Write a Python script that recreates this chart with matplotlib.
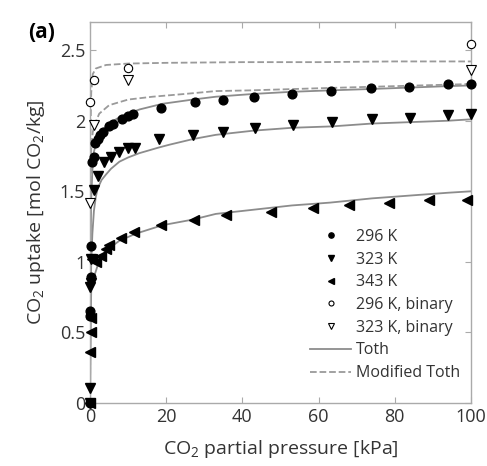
import matplotlib
matplotlib.use("Agg")
import matplotlib.pyplot as plt

plt.rcParams['font.family'] = ['Open Sans', 'DejaVu Sans']
plt.rcParams['mathtext.default'] = 'regular'

# measured uptake, pure CO2
p_296 = [0, 0.05, 0.1, 0.2, 0.3, 0.6, 1.0, 1.3, 2.0, 2.7, 3.3, 5.0, 5.9, 8.4, 9.9, 11.2,
         18.6, 27.5, 34.8, 43, 53, 63.3, 73.8, 83.8, 94, 100]
q_296 = [0, 0.62, 0.65, 0.89, 1.11, 1.71, 1.74, 1.84, 1.87, 1.90, 1.92, 1.96, 1.98, 2.01, 2.03, 2.05,
         2.09, 2.13, 2.15, 2.17, 2.19, 2.21, 2.23, 2.24, 2.26, 2.26]

p_323 = [0, 0.05, 0.1, 0.2, 0.3, 1.0, 2.1, 3.7, 5.5, 7.7, 9.9, 11.9, 18.1, 27, 34.8,
         43.2, 53.2, 63.6, 74, 84, 94, 100]
q_323 = [0, 0.11, 0.82, 0.85, 1.02, 1.51, 1.61, 1.71, 1.74, 1.78, 1.81, 1.81, 1.87, 1.90, 1.92,
         1.95, 1.97, 1.99, 2.01, 2.02, 2.04, 2.05]

p_343 = [0, 0.1, 0.2, 0.3, 0.5, 1.6, 2.9, 4.2, 5.0, 8.1, 11.6, 18.6, 27.3, 35.6,
         47.5, 58.5, 68, 78.5, 89, 99]
q_343 = [0, 0.36, 0.50, 0.60, 1.02, 1.00, 1.04, 1.09, 1.12, 1.17, 1.21, 1.26, 1.30, 1.33,
         1.35, 1.38, 1.40, 1.42, 1.44, 1.44]

# binary mixture
p_296b = [0, 1, 10, 100]
q_296b = [2.13, 2.29, 2.37, 2.54]
p_323b = [0, 0.9, 10, 100]
q_323b = [1.42, 1.97, 2.29, 2.36]

# Toth fits
tp_296 = [0, 0.05, 0.15, 0.3, 0.6, 1.0, 2.0, 3.0, 5.0, 8.0, 13, 19, 27, 33, 43, 53, 63, 74, 84, 94, 100]
tq_296 = [0, 0.7, 1.15, 1.45, 1.65, 1.78, 1.88, 1.93, 1.98, 2.03, 2.08, 2.12, 2.15, 2.17, 2.19,
          2.205, 2.215, 2.225, 2.235, 2.245, 2.25]
tp_323 = [0, 0.05, 0.15, 0.3, 0.6, 1.0, 1.5, 2.0, 3, 4.2, 5.5, 7.7, 10, 12.9, 18, 20.8, 27, 33,
          43, 53, 63.6, 74, 84, 94, 100]
tq_323 = [0, 0.4, 0.75, 1.0, 1.2, 1.36, 1.46, 1.52, 1.58, 1.62, 1.66, 1.71, 1.74, 1.77, 1.81, 1.83,
          1.87, 1.90, 1.93, 1.95, 1.96, 1.98, 1.99, 2.0, 2.01]
tp_343 = [0, 0.05, 0.15, 0.3, 0.6, 1.1, 2.4, 4.2, 7.7, 12, 19, 27, 33, 43, 53, 63, 74, 84, 94, 100]
tq_343 = [0, 0.3, 0.6, 0.8, 0.86, 0.9, 1.01, 1.08, 1.15, 1.2, 1.26, 1.30, 1.34, 1.37, 1.40, 1.42,
          1.45, 1.47, 1.49, 1.50]

# modified Toth fits
mp_296 = [0, 0.02, 0.1, 0.3, 0.7, 1.5, 4.2, 10, 20, 40, 60, 80, 100]
mq_296 = [0, 1.0, 1.9, 2.2, 2.33, 2.37, 2.395, 2.405, 2.41, 2.415, 2.415, 2.42, 2.42]
mp_323 = [0, 0.02, 0.1, 0.3, 0.7, 1.6, 2.4, 5, 10, 16.4, 25, 33, 42, 60, 80, 100]
mq_323 = [0, 0.8, 1.5, 1.8, 1.92, 2.0, 2.05, 2.11, 2.15, 2.17, 2.19, 2.21, 2.215, 2.23, 2.245, 2.26]

yticks = [0, 0.5, 1, 1.5, 2, 2.5]
ytick_labels = ['0', '0.5', '1', '1.5', '2', '2.5']
xticks = [0, 20, 40, 60, 80, 100]

txt = '#333333'
fig = plt.figure(figsize=(4.87, 4.66), dpi=100)
ax = fig.add_axes([0.185, 0.135, 0.782, 0.818])

ax.plot(p_296, q_296, 'o', color='black', ms=6.3, label='296 K', clip_on=False, zorder=3)
ax.plot(p_323, q_323, 'v', color='black', ms=6.8, label='323 K', clip_on=False, zorder=3)
ax.plot(p_343, q_343, '<', color='black', ms=6.8, label='343 K', clip_on=False, zorder=3)
ax.plot(p_296b, q_296b, 'o', mfc='white', mec='black', mew=0.8, ms=6, label='296 K, binary',
        clip_on=False, zorder=3)
ax.plot(p_323b, q_323b, 'v', mfc='white', mec='black', mew=0.8, ms=7, label='323 K, binary',
        clip_on=False, zorder=3)

ax.plot(tp_296, tq_296, '-', color='#8c8c8c', lw=1.3, label='Toth')
ax.plot(tp_323, tq_323, '-', color='#8c8c8c', lw=1.3)
ax.plot(tp_343, tq_343, '-', color='#8c8c8c', lw=1.3)
ax.plot(mp_296, mq_296, '--', color='#9a9a9a', lw=1.3, label='Modified Toth')
ax.plot(mp_323, mq_323, '--', color='#9a9a9a', lw=1.3)

ax.set_xlim(0, 100)
ax.set_ylim(0, 2.7)
ax.set_xticks(xticks)
ax.set_yticks(yticks)
ax.set_yticklabels(ytick_labels)
ax.tick_params(direction='in', top=True, right=True, labelsize=13, colors='#aaaaaa',
               labelcolor=txt, length=4)
for s in ax.spines.values():
    s.set_color('#aaaaaa')
    s.set_linewidth(1.0)

ax.set_xlabel('CO$_2$ partial pressure [kPa]', fontsize=14, color=txt, labelpad=9)
ax.set_ylabel('CO$_2$ uptake [mol CO$_2$/kg]', fontsize=14, color=txt, labelpad=9)

leg = ax.legend(loc='lower right', frameon=False, fontsize=11.5, markerscale=0.6,
                handlelength=2.6, handletextpad=0.3, labelspacing=0.42,
                bbox_to_anchor=(1.01, 0.02))
for t in leg.get_texts():
    t.set_color(txt)

fig.text(0.057, 0.918, '(a)', fontsize=15, fontweight='bold', color='black')

fig.savefig('out.png', dpi=100)
